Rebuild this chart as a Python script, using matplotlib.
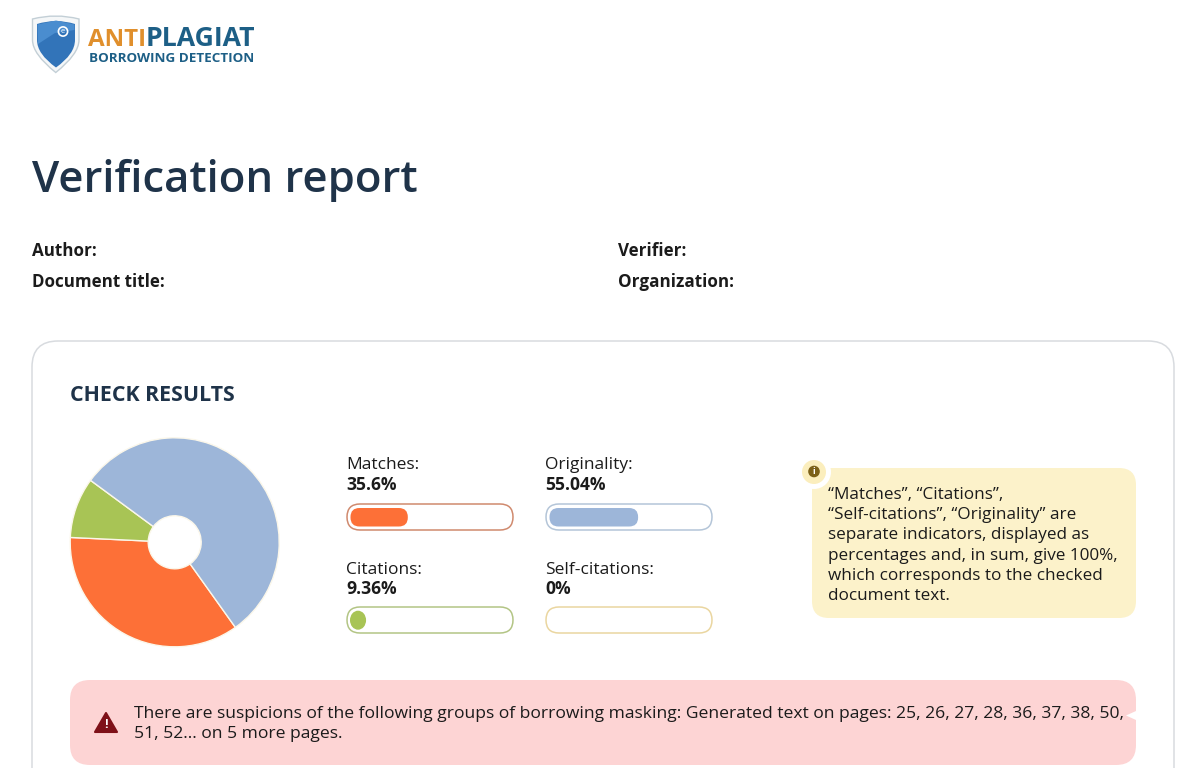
import matplotlib
matplotlib.use("Agg")
import matplotlib.pyplot as plt
from matplotlib.patches import FancyBboxPatch, Circle, Ellipse, Polygon, PathPatch
from matplotlib.path import Path

plt.rcParams["font.family"] = ["Open Sans", "DejaVu Sans"]

# chart values
pie_labels = ["Matches", "Citations", "Originality"]
pie_values = [35.6, 9.36, 55.04]
pie_colors = ["#fd7037", "#a8c455", "#9db6d9"]

bar_labels = ["Matches:", "Originality:", "Citations:", "Self-citations:"]
bar_texts = ["35.6%", "55.04%", "9.36%", "0%"]
bar_values = [35.6, 55.04, 9.36, 0]
bar_fill = ["#fd7037", "#9db6d9", "#a8c455", "#f3d98c"]
bar_edge = ["#d08a6e", "#b4c5d8", "#b3c585", "#ead6a0"]

note_lines = [
    "“Matches”, “Citations”,",
    "“Self-citations”, “Originality” are",
    "separate indicators, displayed as",
    "percentages and, in sum, give 100%,",
    "which corresponds to the checked",
    "document text.",
]
warn_lines = [
    "There are suspicions of the following groups of borrowing masking: Generated text on pages: 25, 26, 27, 28, 36, 37, 38, 50,",
    "51, 52... on 5 more pages.",
]

NAVY = "#1f3349"
INK = "#1b1b1b"

fig = plt.figure(figsize=(12, 7.68), dpi=100, facecolor="white")
ax = fig.add_axes([0, 0, 1, 1])
ax.set_xlim(0, 1200)
ax.set_ylim(768, 0)
ax.axis("off")


def box(x0, y0, x1, y1, r, fc, ec="none", lw=0, z=2):
    p = FancyBboxPatch((x0, y0), x1 - x0, y1 - y0, boxstyle=f"round,pad=0,rounding_size={r}",
                       fc=fc, ec=ec, lw=lw, zorder=z)
    ax.add_patch(p)
    return p


def label(x, y, s, size, color=INK, weight="normal"):
    ax.text(x, y, s, fontsize=size, color=color, fontweight=weight, va="baseline", ha="left", zorder=6)


def shield(l, r, top, dip, side, bottom):
    mid = (l + r) / 2
    verts = [(l, top), (mid, dip), (r, top), (r, side), (r, side + 14), (mid, bottom),
             (l, side + 14), (l, side), (l, top), (l, top)]
    codes = [Path.MOVETO, Path.CURVE3, Path.CURVE3, Path.LINETO, Path.CURVE3, Path.CURVE3,
             Path.CURVE3, Path.CURVE3, Path.LINETO, Path.CLOSEPOLY]
    return Path(verts, codes)


# logo
ax.add_patch(PathPatch(shield(32.5, 79, 19, 13, 40, 72.5), fc="#f5f7f8", ec="#c3cfd6", lw=1, zorder=3))
ax.add_patch(PathPatch(shield(37, 75, 24, 18, 40, 67.5), fc="#3274b9", ec="none", zorder=4))
ax.add_patch(Polygon([(37.5, 24.5), (56, 20.5), (74.5, 24.5), (74.5, 30), (55, 33), (38, 44)],
                     fc="#4a8dcf", ec="none", zorder=4))
ax.add_patch(Circle((63, 31.5), 4.6, fc="none", ec="white", lw=1.2, zorder=5))
ax.text(63, 31.5, "e", fontsize=5.5, color="white", ha="center", va="center", zorder=6)
label(88, 46, "ANTI", 17.4, "#e08f2c", "bold")
label(146, 46, "PLAGIAT", 19.2, "#1d5f86", "bold")
label(89, 62, "BORROWING DETECTION", 9.7, "#1d5f86", "bold")

# header
label(32, 192.5, "Verification report", 31.5, NAVY, "semibold")
label(32, 256, "Author:", 12.25, INK, "bold")
label(32, 287, "Document title:", 12.25, INK, "bold")
label(618, 256, "Verifier:", 12.25, INK, "bold")
label(618, 287, "Organization:", 12.25, INK, "bold")

# card, runs off the bottom of the page
box(32, 341, 1174, 830, 26, "white", "#d8dbdf", 1.1, z=1)
label(70, 401, "CHECK RESULTS", 15.4, NAVY, "bold")

# pie
pie_ax = fig.add_axes([70.2 / 1200, 1 - 646.8 / 768, 209 / 1200, 209 / 768])
pie_ax.pie(pie_values, colors=pie_colors, startangle=-54.5, counterclock=False, radius=1,
           wedgeprops={"width": 1 - 26.5 / 104.5, "edgecolor": "#fbf7ea", "linewidth": 1})
pie_ax.set_xlim(-1, 1)
pie_ax.set_ylim(-1, 1)
for w in pie_ax.patches:
    w.set_clip_on(False)

# progress bars
bar_x = [347, 546, 347, 546]
bar_y = [504, 504, 607, 607]
for i in range(4):
    x, y = bar_x[i], bar_y[i]
    shift = 0 if i < 2 else 1.5
    label(x - 1, y - 35 + shift, bar_labels[i], 12.5, INK)
    label(x - 1, y - 14.5 + shift, bar_texts[i], 12.6, INK, "bold")
    box(x, y, x + 166, y + 26, 13, "white", bar_edge[i], 1.1, z=3)
    w = 161 * bar_values[i] / 100
    if w > 18:
        box(x + 3.5, y + 4, x + 3.5 + w, y + 22.5, 9, bar_fill[i], z=4)
    elif w > 0:
        ax.add_patch(Ellipse((x + 3.5 + w / 2, y + 13.2), w + 1, 19, fc=bar_fill[i], ec="none", zorder=4))

# note
box(812, 468, 1136, 618, 17, "#fcf2ca")
ax.add_patch(Circle((814, 472), 17, fc="white", ec="none", zorder=3))
ax.add_patch(Circle((814, 472), 12, fc="#fbeebd", ec="none", zorder=4))
ax.add_patch(Circle((814, 471.5), 5.8, fc="#7c6118", ec="none", zorder=5))
ax.text(814, 471.5, "i", fontsize=6.5, color="white", fontweight="bold", ha="center", va="center", zorder=6)
for i, line in enumerate(note_lines):
    label(828, 499 + i * 20.2, line, 12.35, INK)

# warning
box(70, 680, 1136, 765, 20, "#fdd4d4")
ax.add_patch(Polygon([(106, 713), (95, 732), (117, 732)], closed=True, fc="#7e1018", ec="#7e1018", lw=1.5,
                     joinstyle="round", zorder=4))
ax.text(106, 724, "!", fontsize=9, color="white", fontweight="bold", ha="center", va="center", zorder=6)
ax.add_patch(Polygon([(1136, 711), (1126, 715.5), (1136, 720)], fc="white", ec="none", zorder=3))
for i, line in enumerate(warn_lines):
    label(134, 718 + i * 20, line, 12.58, INK)

fig.savefig("out.png", dpi=100, facecolor="white")
plt.close(fig)
